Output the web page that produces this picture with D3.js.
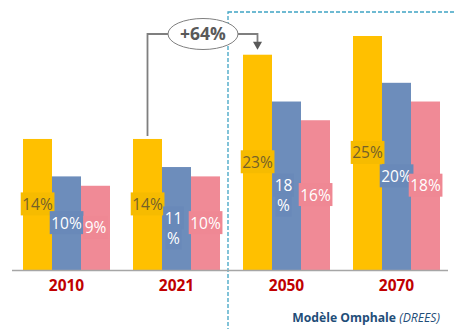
<!DOCTYPE html>
<html>
<head>
<meta charset="utf-8">
<script src="https://cdn.jsdelivr.net/npm/d3@7"></script>
<style>
  html, body { margin: 0; padding: 0; background: #fff; }
  svg { display: block; font-family: "Open Sans", "Noto Sans", sans-serif; }
</style>
</head>
<body>
<svg id="chart" width="454" height="329"></svg>
<script>
// Years shown on the horizontal axis
const years = ["2010", "2021", "2050", "2070"];
// Three series per year (percent)
const seriesNames = ["s1", "s2", "s3"];
const s1Values = [14, 14, 23, 25];
const s2Values = [10, 11, 18, 20];
const s3Values = [9, 10, 16, 18];
// Labels that break onto two lines (second series)
const s2Wrapped = [false, true, true, false];
const growthLabel = "+64%";
const sourceBold = "Modèle Omphale ";
const sourceItalic = "(DREES)";

const colors = { s1: "#FFC000", s2: "#6D8DBB", s3: "#F08A96" };
const labelBg = { s1: "#F6BB00", s2: "#6989B9", s3: "#EF8894" };
const labelFg = { s1: "#74612A", s2: "#FFFFFF", s3: "#FFFFFF" };

const values = { s1: s1Values, s2: s2Values, s3: s3Values };
const rows = years.map((y, i) => ({
  year: y,
  bars: seriesNames.map(k => ({ key: k, value: values[k][i], wrap: k === "s2" && s2Wrapped[i] }))
}));

const svg = d3.select("#chart");
const baseY = 270;

const x0 = d3.scaleBand().domain(years).range([23, 440]).paddingInner(23 / 110).paddingOuter(0);
const x1 = d3.scaleBand().domain(seriesNames).range([0, x0.bandwidth()]).padding(0);
const y = d3.scaleLinear().domain([0, 25]).range([baseY, 36]);

// Projection zone (dashed frame)
svg.append("rect")
  .attr("x", 228).attr("y", 12).attr("width", 240).attr("height", 340)
  .attr("fill", "none").attr("stroke", "#3FA4C4").attr("stroke-width", 1.3)
  .attr("stroke-dasharray", "4,2");

// Bars
const groups = svg.selectAll("g.year").data(rows).join("g")
  .attr("class", "year")
  .attr("transform", d => `translate(${x0(d.year)},0)`);

groups.selectAll("rect.bar").data(d => d.bars).join("rect")
  .attr("class", "bar")
  .attr("x", d => x1(d.key))
  .attr("y", d => y(d.value))
  .attr("width", x1.bandwidth())
  .attr("height", d => baseY - y(d.value))
  .attr("fill", d => colors[d.key]);

// Value labels with a tinted box
groups.each(function (row) {
  const g = d3.select(this);
  row.bars.forEach(b => {
    const cx = x1(b.key) + x1.bandwidth() / 2;
    const cy = (y(b.value) + baseY) / 2;
    const lines = b.wrap ? [String(b.value), "%"] : [b.value + "%"];
    const lg = g.append("g");
    const texts = lines.map((t, i) => lg.append("text")
      .attr("x", b.wrap ? cx - 3 : cx)
      .attr("y", cy + i * 20)
      .attr("dy", "0.35em")
      .attr("text-anchor", "middle")
      .attr("font-size", 15.5)
      .attr("fill", labelFg[b.key])
      .text(t));
    texts.forEach(tx => {
      const bb = tx.node().getBBox();
      lg.insert("rect", "text")
        .attr("x", bb.x - 1.5).attr("y", bb.y - 0.5)
        .attr("width", bb.width + 3).attr("height", bb.height + 1)
        .attr("fill", labelBg[b.key]);
    });
  });
});

// Baseline
svg.append("line")
  .attr("x1", 12).attr("x2", 448).attr("y1", baseY + 0.5).attr("y2", baseY + 0.5)
  .attr("stroke", "#A6A6A6").attr("stroke-width", 1.5);

// Year labels
svg.selectAll("text.yr").data(years).join("text")
  .attr("class", "yr")
  .attr("x", d => x0(d) + x0.bandwidth() / 2)
  .attr("y", 291)
  .attr("text-anchor", "middle")
  .attr("font-size", 15.5)
  .attr("font-weight", "bold")
  .attr("fill", "#C00000")
  .text(d => d);

// Growth connector between 2021 and 2050
const fromX = x0("2021") + x1("s1") + x1.bandwidth() / 2;
const toX = x0("2050") + x1("s1") + x1.bandwidth() / 2;
const lineY = 34;
const ell = { cx: 203, cy: lineY, rx: 35, ry: 15.5 };
svg.append("path")
  .attr("d", `M${fromX},${y(s1Values[1]) - 3} V${lineY} H${ell.cx - ell.rx}`)
  .attr("fill", "none").attr("stroke", "#7F7F7F").attr("stroke-width", 1.8);
svg.append("path")
  .attr("d", `M${ell.cx + ell.rx},${lineY} H${toX} V${y(s1Values[2]) - 12}`)
  .attr("fill", "none").attr("stroke", "#7F7F7F").attr("stroke-width", 1.8);
svg.append("path")
  .attr("d", `M${toX - 4.5},${y(s1Values[2]) - 13} L${toX + 4.5},${y(s1Values[2]) - 13} L${toX},${y(s1Values[2]) - 5} Z`)
  .attr("fill", "#595959");
svg.append("ellipse")
  .attr("cx", ell.cx).attr("cy", ell.cy).attr("rx", ell.rx).attr("ry", ell.ry)
  .attr("fill", "#fff").attr("stroke", "#7F7F7F").attr("stroke-width", 1);
svg.append("text")
  .attr("x", ell.cx).attr("y", ell.cy).attr("dy", "0.35em")
  .attr("text-anchor", "middle")
  .attr("font-size", 17.5).attr("font-weight", "bold")
  .attr("fill", "#595959")
  .text(growthLabel);

// Source
const src = svg.append("text")
  .attr("x", 440).attr("y", 322)
  .attr("text-anchor", "end")
  .attr("font-size", 12.2)
  .attr("fill", "#1F4E79");
src.append("tspan").attr("font-weight", "bold").text(sourceBold);
src.append("tspan").attr("font-style", "italic").text(sourceItalic);
</script>
</body>
</html>
